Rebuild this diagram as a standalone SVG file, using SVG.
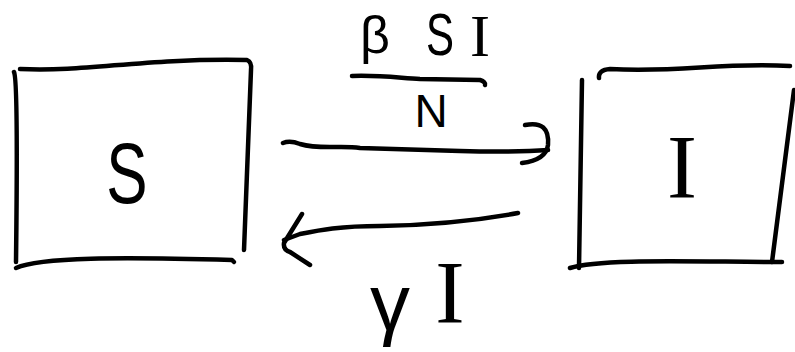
<svg xmlns="http://www.w3.org/2000/svg" width="795" height="352" viewBox="0 0 795 352">
<style>
.ink{fill:none;stroke:#000;stroke-width:4.5;stroke-linecap:round;stroke-linejoin:round}
.t{font-family:"Liberation Sans","DejaVu Sans",sans-serif;fill:#000;text-anchor:middle}
.s{font-family:"Liberation Serif","DejaVu Serif",serif;fill:#000;text-anchor:middle}
</style>
<rect width="795" height="352" fill="#fff"/>
<g id="S">
<path class="ink" d="M14,72 C18,80 17,180 16,262"/>
<path class="ink" d="M20,69 C90,72 140,58 247,60 Q252,62 251,70 L244,250"/>
<path class="ink" d="M16,268 C40,257 120,257 232,260 L234,262"/>
<text class="t" font-size="86" transform="translate(127,203) scale(0.72,1)">S</text>
</g>
<g id="I">
<path class="ink" d="M582,80 L579,268"/>
<path class="ink" d="M599,78 Q598,70 610,69 C680,73 720,62 790,66"/>
<path class="ink" d="M794,90 L772,262"/>
<path class="ink" d="M570,268 C600,258 700,262 782,262"/>
<text class="s" x="682" y="198" font-size="90">I</text>
</g>
<g id="connectors">
<path class="ink" d="M283,143 Q290,140 300,144 C320,150 340,145 360,148 L460,151 C500,152 520,152 548,150"/>
<path class="ink" d="M525,125 Q550,120 548,145 Q546,160 522,163"/>
<path class="ink" d="M518,213 C480,220 440,225 380,226 C340,226 320,230 300,234 L284,240"/>
<path class="ink" d="M302,214 L284,243 Q283,250 290,252 L310,265"/>
</g>
<g id="label-top">
<text class="t" x="375" y="53" font-size="52">β</text>
<text class="t" font-size="60" transform="translate(440,55) scale(0.7,1)">S</text>
<text class="s" x="480" y="56" font-size="60">I</text>
<path class="ink" d="M352,76 C380,75 400,78 420,79 L480,80 Q486,82 485,85"/>
<text class="t" x="431" y="127" font-size="46">N</text>
</g>
<g id="label-bottom">
<text class="t" x="390" y="330" font-size="80">γ</text>
<text class="s" x="450" y="322" font-size="88">I</text>
</g>
</svg>
